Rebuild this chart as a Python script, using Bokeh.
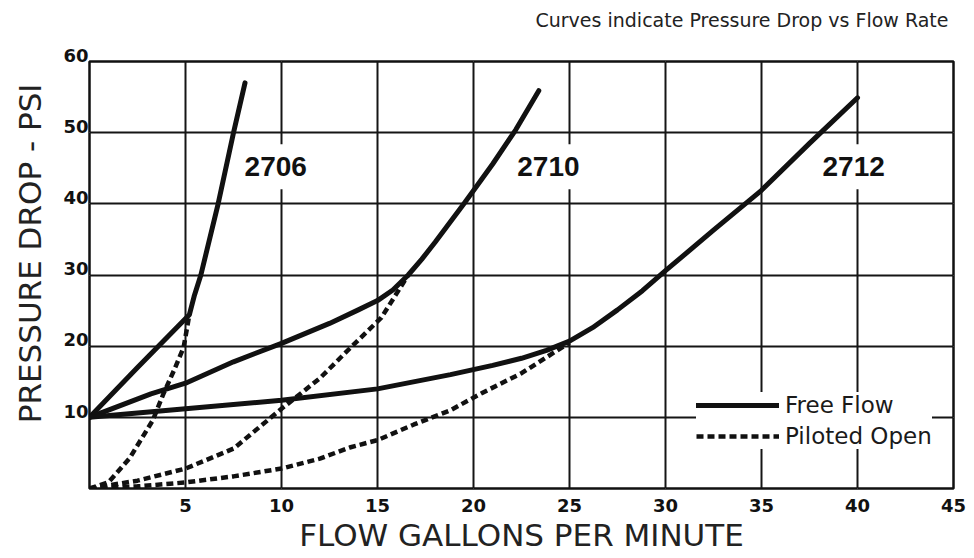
import math
from bokeh.plotting import figure
from bokeh.models import (Range1d, FixedTicker, Label, LinearAxis, Title,
                          Legend, LegendItem, Grid)
from bokeh.embed import file_html
from bokeh.resources import INLINE

# ---- data ----
x_ticks = [5, 10, 15, 20, 25, 30, 35, 40, 45]
y_ticks = [10, 20, 30, 40, 50, 60]
grid_x = [5, 10, 15, 20, 25, 30, 35, 40]
grid_y = [10, 20, 30, 40, 50]

# 2706
free_2706_x = [0, 2.5, 5.2, 5.45, 5.8, 6.7, 7.5, 8.1]
free_2706_y = [10, 17, 24.4, 27, 30, 40, 50, 57]
pil_2706_x = [0, 1, 2.1, 3.3, 3.85, 4.4, 4.9, 5.2]
pil_2706_y = [0, 0.9, 4.3, 9.6, 13.3, 16.6, 19.8, 24.4]

# 2710
free_2710_x = [0, 3.2, 5, 7.5, 10, 12.5, 14, 15, 15.8, 16.6, 17.3, 18, 19.5, 20.2, 21, 22.2, 23.4]
free_2710_y = [10, 13.3, 14.8, 17.8, 20.4, 23.2, 25.1, 26.4, 27.9, 30, 32.2, 34.6, 40, 42.6, 45.6, 50.4, 55.9]
pil_2710_x = [0, 2.5, 5, 7.5, 10, 12, 13.6, 15.2, 16.6]
pil_2710_y = [0, 1.1, 2.8, 5.6, 11.2, 15.5, 19.8, 24, 30]

# 2712
free_2712_x = [0, 5, 10, 15, 18.8, 21, 22.5, 23.8, 25, 26.2, 27.5, 28.8, 30, 32.5, 35, 37.5, 40]
free_2712_y = [10, 11.2, 12.4, 14.0, 16, 17.3, 18.3, 19.4, 20.7, 22.6, 25.1, 27.8, 30.6, 36.3, 41.9, 48.5, 54.9]
pil_2712_x = [0, 2.5, 5, 7.5, 10, 12, 13.6, 15, 16.9, 18.8, 20.5, 22.5, 25]
pil_2712_y = [0, 0.3, 0.85, 1.7, 2.8, 4.2, 5.8, 6.8, 9, 11, 13.5, 16.2, 20.5]

model_names = ["2706", "2710", "2712"]
model_label_x = [9.7, 23.9, 39.8]
model_label_y = [45.2, 45.2, 45.2]

legend_labels = ["Free Flow", "Piloted Open"]
title_text = "Curves indicate Pressure Drop vs Flow Rate"
x_title = "FLOW GALLONS PER MINUTE"
y_title = "PRESSURE DROP - PSI"

# ---- figure ----
p = figure(width=966, height=558, output_backend="svg", toolbar_location=None,
           x_range=Range1d(0, 45), y_range=Range1d(0, 60),
           x_axis_location=None, y_axis_location=None,
           min_border_left=89, min_border_right=13,
           min_border_top=61, min_border_bottom=70)
p.background_fill_color = "white"
p.border_fill_color = "white"
p.outline_line_color = "#111111"
p.outline_line_width = 2.5

# header: an empty second line lifts the text higher above the frame
p.title.text = title_text + "\n "
p.title.align = "right"
p.title.offset = 5
p.title.vertical_align = "bottom"
p.title.standoff = 9
p.title.text_line_height = 1.2
p.title.text_font = "DejaVu Sans"
p.title.text_font_size = "19px"
p.title.text_font_style = "normal"
p.title.text_color = "#222222"

tick_font = "DejaVu Sans"

xaxis = LinearAxis(ticker=FixedTicker(ticks=x_ticks), axis_label=x_title,
                   axis_line_color=None, major_tick_line_color=None,
                   minor_tick_line_color=None, major_tick_in=0, major_tick_out=0,
                   major_label_standoff=10, axis_label_standoff=2,
                   major_label_text_font=tick_font, major_label_text_font_style="bold",
                   major_label_text_font_size="18px", major_label_text_color="#111111",
                   axis_label_text_font="DejaVu Sans", axis_label_text_font_style="normal",
                   axis_label_text_font_size="31px", axis_label_text_color="#222222")
p.add_layout(xaxis, "below")

# y tick labels sit just above their grid lines in the reference
yaxis = LinearAxis(ticker=FixedTicker(ticks=y_ticks),
                   major_label_overrides={v: f"{v}\n " for v in y_ticks},
                   major_label_text_line_height=0.6,
                   axis_line_color=None, major_tick_line_color=None,
                   minor_tick_line_color=None, major_tick_in=0, major_tick_out=0,
                   major_label_standoff=1,
                   major_label_text_font=tick_font, major_label_text_font_style="bold",
                   major_label_text_font_size="18px", major_label_text_color="#111111")
p.add_layout(yaxis, "left")

ytitle = Title(text=y_title, align="right", offset=22, vertical_align="top",
               standoff=22,
               text_font="DejaVu Sans", text_font_style="normal",
               text_font_size="31px", text_color="#222222")
p.add_layout(ytitle, "left")

gx = Grid(dimension=0, ticker=FixedTicker(ticks=grid_x),
          grid_line_color="#151515", grid_line_width=2)
gy = Grid(dimension=1, ticker=FixedTicker(ticks=grid_y),
          grid_line_color="#151515", grid_line_width=2)
p.add_layout(gx, "center")
p.add_layout(gy, "center")

# curve name labels (white boxes interrupt the grid)
for nm, lx, ly in zip(model_names, model_label_x, model_label_y):
    p.add_layout(Label(x=lx, y=ly, text=nm, text_font="Liberation Sans",
                       text_font_style="bold", text_font_size="28px",
                       text_color="#111111", text_align="center",
                       text_baseline="middle", background_fill_color="white",
                       padding=(5, 13), level="underlay"))

LW = 5
DW = 4.5
DASH = "7 4"
col = "#111111"

r_free = p.line(free_2706_x, free_2706_y, line_width=LW, line_color=col, line_join="round", line_cap="round")
p.line(free_2710_x, free_2710_y, line_width=LW, line_color=col, line_join="round", line_cap="round")
p.line(free_2712_x, free_2712_y, line_width=LW, line_color=col, line_join="round", line_cap="round")
r_pil = p.line(pil_2706_x, pil_2706_y, line_width=DW, line_color=col, line_dash=DASH)
p.line(pil_2710_x, pil_2710_y, line_width=DW, line_color=col, line_dash=DASH)
p.line(pil_2712_x, pil_2712_y, line_width=DW, line_color=col, line_dash=DASH)

legend = Legend(items=[LegendItem(label=legend_labels[0], renderers=[r_free]),
                       LegendItem(label=legend_labels[1], renderers=[r_pil])],
                location=(607, 39), glyph_width=83, glyph_height=20,
                label_standoff=6, padding=12, spacing=5, margin=0,
                label_text_font="DejaVu Sans", label_text_font_size="23px",
                label_text_color="#1a1a1a",
                background_fill_color="white", background_fill_alpha=1.0,
                border_line_color=None)
p.add_layout(legend, "center")

open("out.html", "w").write(file_html(p, INLINE))
